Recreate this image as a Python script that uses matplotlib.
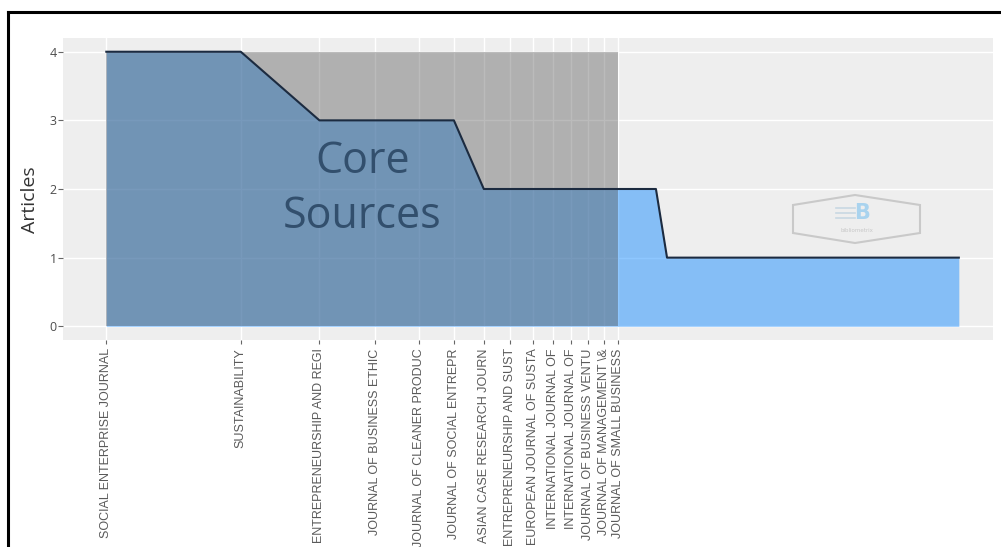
import numpy as np
import matplotlib
matplotlib.use("Agg")
from matplotlib import pyplot as plt
from matplotlib.patches import Polygon, Rectangle
from matplotlib.lines import Line2D

# articles per source, run-length (sorted by rank)
article_levels = [4, 3, 2, 1]
n_sources = [2, 4, 11, 64]
core_n = 14

core_sources = ["SOCIAL ENTERPRISE JOURNAL", "SUSTAINABILITY",
                "ENTREPRENEURSHIP AND REGI", "JOURNAL OF BUSINESS ETHIC",
                "JOURNAL OF CLEANER PRODUC", "JOURNAL OF SOCIAL ENTREPR",
                "ASIAN CASE RESEARCH JOURN", "ENTREPRENEURSHIP AND SUST",
                "EUROPEAN JOURNAL OF SUSTA", "INTERNATIONAL JOURNAL OF",
                "INTERNATIONAL JOURNAL OF", "JOURNAL OF BUSINESS VENTU",
                "JOURNAL OF MANAGEMENT \\&", "JOURNAL OF SMALL BUSINESS"]

articles = np.repeat(article_levels, n_sources)
rank = np.arange(1, len(articles) + 1)

W, H = 1001, 547
fig = plt.figure(figsize=(W / 100, H / 100), dpi=100)
fig.patch.set_facecolor("white")

# panel in pixel terms
pl, pr, pt, pb = 63, 993, 38, 340
ax = fig.add_axes([pl / W, 1 - pb / H, (pr - pl) / W, (pb - pt) / H])
ax.set_facecolor("#EEEEEE")
for s in ax.spines.values():
    s.set_visible(False)

ax.set_xscale("log")
ax.set_xlim(0.80, 96.6)
ax.set_ylim(-0.2, 4.2)

ax.fill_between(rank, 0, articles, color="#1E90FF", alpha=0.5, lw=0, zorder=2)
ax.add_patch(Rectangle((1, 0), core_n - 1, articles.max(), facecolor="#555555",
                       alpha=0.4, lw=0, zorder=3))
ax.plot(rank, articles, color="#1C2B40", lw=1.5, zorder=4)

ax.text(np.sqrt(core_n), 2.0, "Core\nSources", ha="center", va="center",
        fontsize=31, family="Open Sans", color="#2A4663", alpha=0.88,
        linespacing=1.3, zorder=5)

ax.set_xticks(rank[:core_n])
ax.set_xticklabels(core_sources, rotation=90, fontsize=9,
                   family="Liberation Sans", color="#5A5A5A")
ax.xaxis.set_minor_locator(matplotlib.ticker.NullLocator())
ax.set_yticks([0, 1, 2, 3, 4])
ax.tick_params(axis="y", labelsize=9, labelcolor="#4D4D4D", color="#666666",
               length=3.5, width=0.8, pad=1)
ax.tick_params(axis="x", color="#666666", length=3, width=0.8, pad=3)
for lab in ax.get_yticklabels():
    lab.set_family("Open Sans")

ax.grid(True, which="major", color="white", lw=1.0)
ax.set_axisbelow(True)
ax.set_ylabel("Articles", fontsize=14, family="Open Sans", color="#333333")
ax.yaxis.set_label_coords(-0.026, 0.465)

# bibliometrix watermark
def fx(x):
    return x / W

def fy(y):
    return 1 - y / H

hexagon = [(855, 195), (920, 205), (920, 233), (855, 243), (793, 233), (793, 205)]
fig.patches.append(Polygon([(fx(a), fy(b)) for a, b in hexagon], closed=True,
                           transform=fig.transFigure, fill=False,
                           edgecolor="#C9C9C9", lw=1.5))
fig.text(fx(862), fy(213), "B", ha="center", va="center", fontsize=15,
         fontweight="bold", color="#A9D3EE", family="DejaVu Sans")
for yy in (208, 213, 218):
    fig.add_artist(Line2D([fx(836), fx(855)], [fy(yy), fy(yy)],
                          transform=fig.transFigure, color="#C8D8E2", lw=1.2))
fig.text(fx(857), fy(231), "bibliometrix", ha="center", va="center",
         fontsize=4, color="#C8C8C8")

# screenshot frame
fig.add_artist(Line2D([fx(8), fx(8)], [fy(12), 0], transform=fig.transFigure,
                      color="black", lw=2.2))
fig.add_artist(Line2D([fx(8), 1], [fy(12), fy(12)], transform=fig.transFigure,
                      color="black", lw=2.2))

fig.savefig("out.png", dpi=100)
